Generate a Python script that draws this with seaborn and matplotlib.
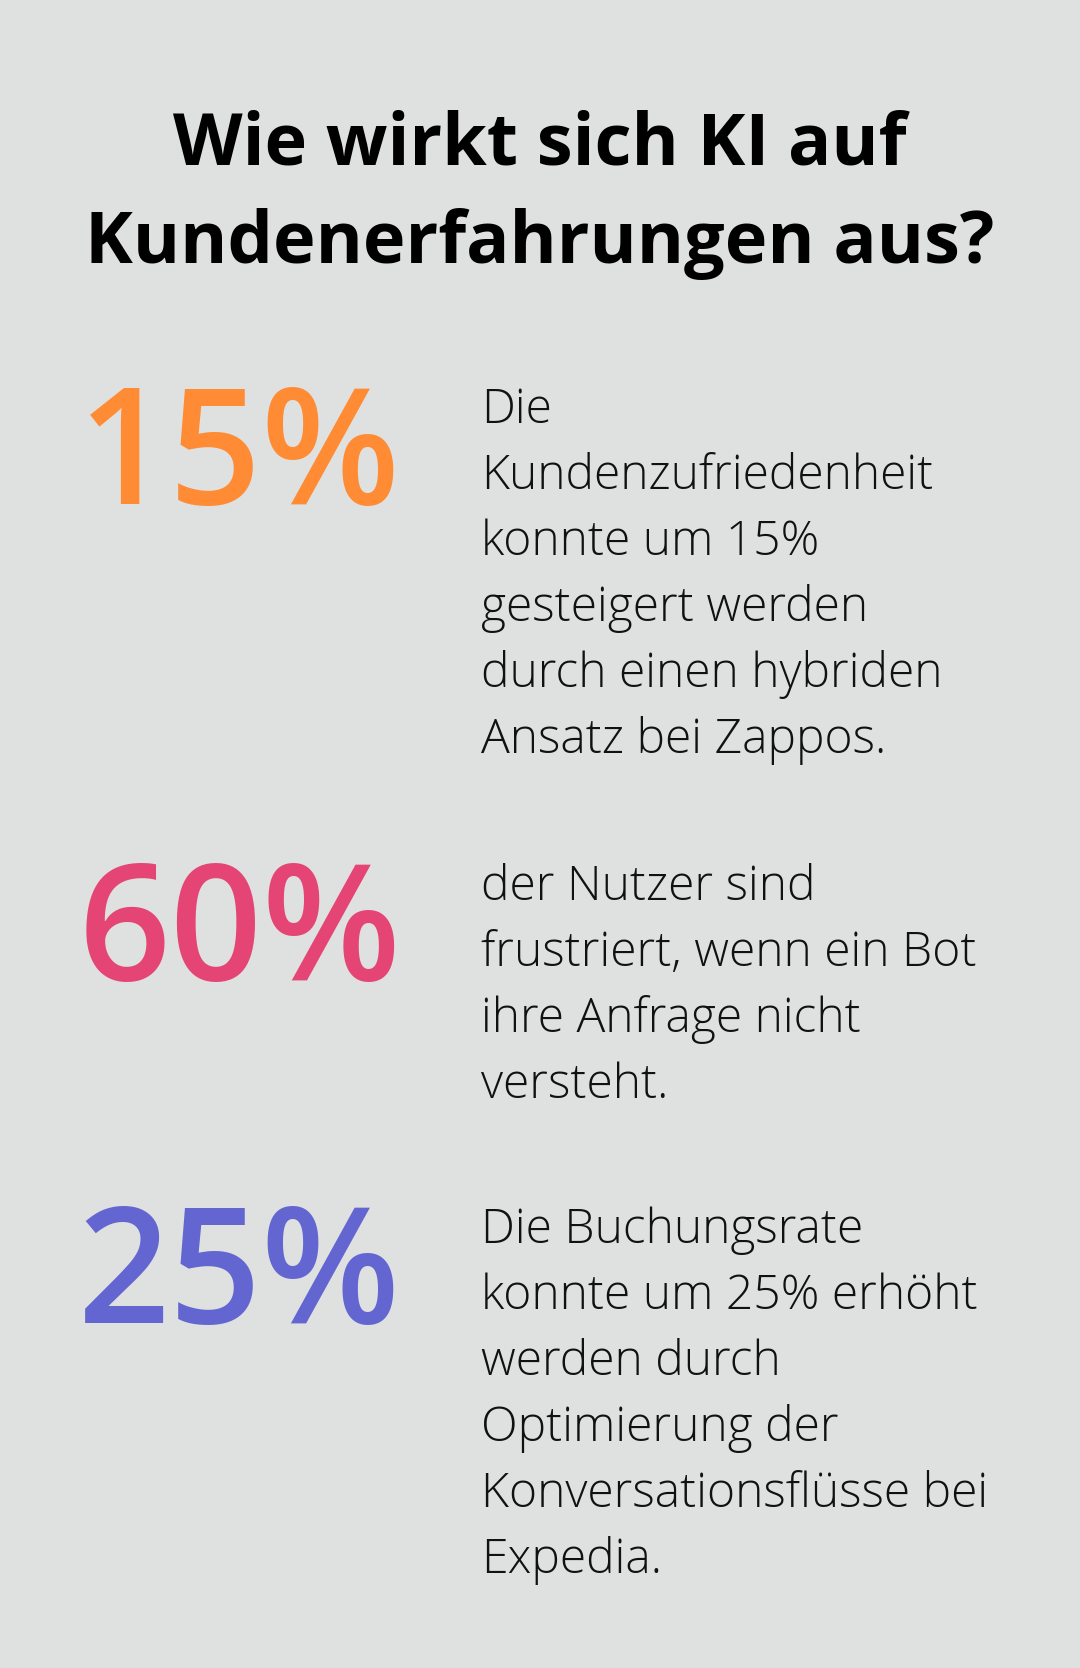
import matplotlib.pyplot as plt
import seaborn as sns

# Infographic content
title_lines = ['Wie wirkt sich KI auf', 'Kundenerfahrungen aus?']
stats = ['15%', '60%', '25%']
stat_colors = ['#FF8C35', '#E54574', '#6366D1']
descriptions = [
    ['Die', 'Kundenzufriedenheit', 'konnte um 15%', 'gesteigert werden',
     'durch einen hybriden', 'Ansatz bei Zappos.'],
    ['der Nutzer sind', 'frustriert, wenn ein Bot', 'ihre Anfrage nicht',
     'versteht.'],
    ['Die Buchungsrate', 'konnte um 25% erhöht', 'werden durch',
     'Optimierung der', 'Konversationsflüsse bei', 'Expedia.'],
]

bg = '#DFE1E0'
sns.set_theme(style='white', rc={'figure.facecolor': bg, 'axes.facecolor': bg})
plt.rcParams['font.family'] = ['Open Sans', 'DejaVu Sans']

fig = plt.figure(figsize=(10.8, 16.68), dpi=100)
ax = fig.add_axes([0, 0, 1, 1])
ax.set_xlim(0, 1080)
ax.set_ylim(1668, 0)
ax.axis('off')

# Title
for i, line in enumerate(title_lines):
    ax.text(540, 164 + i * 99, line, ha='center', va='baseline',
            fontsize=51.8, fontweight='bold', color='black')

# Stats blocks
block_top = [423, 900, 1243]
stat_base = [504, 980, 1323]
line_gap = 66
for stat, color, desc, y0, yb in zip(stats, stat_colors, descriptions, block_top, stat_base):
    ax.text(401, yb, stat, ha='right', va='baseline', fontsize=116,
            fontweight='semibold', color=color)
    for j, line in enumerate(desc):
        ax.text(481, y0 + j * line_gap, line, ha='left', va='baseline',
                fontsize=34.6, fontweight='light', color='#111111')

fig.savefig('out.png', dpi=100, facecolor=bg)
plt.close(fig)
